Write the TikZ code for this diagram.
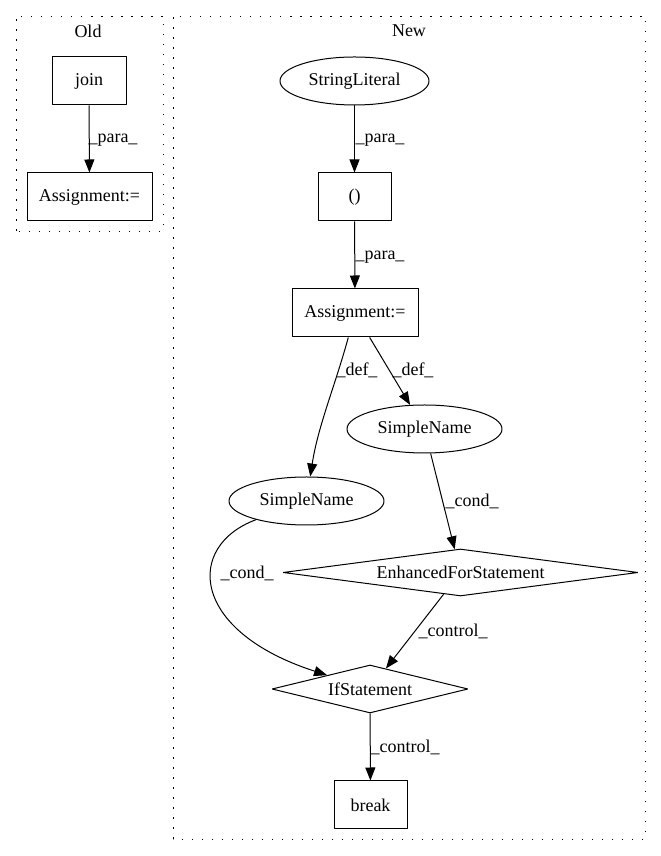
\documentclass[tikz,border=0pt]{standalone}
\usepackage{fontspec}
\setmainfont{Liberation Serif}
\usetikzlibrary{shapes.geometric,arrows.meta}
\tikzset{
  every node/.style={font=\fontsize{18bp}{21bp}\selectfont},
  box/.style={draw,rectangle,inner sep=0pt,minimum height=48bp},
  oval/.style={draw,ellipse,inner sep=0pt,minimum height=48bp},
  dia/.style={draw,diamond,inner sep=0pt},
  lbl/.style={inner sep=0pt},
  cluster/.style={draw,line width=0.8bp,dash pattern=on 1.5bp off 8.5bp},
}
\begin{document}
\begin{tikzpicture}[>={Triangle[length=13bp,width=10bp]},line join=bevel,line width=1bp]
\useasboundingbox (0bp,0bp) rectangle (661bp,856bp);
%%
\draw [cluster] (16bp,625bp) rectangle (163bp,840bp);
\node (title_old) at (88bp,825bp) {Old};
\draw [cluster] (173bp,17bp) rectangle (645bp,840bp);
\node (title_new) at (409bp,825bp) {New};
%%
\node (node_0) at (89bp,775bp) [box,minimum width=74bp] {join};
  \node (node_1) at (89.5bp,659bp) [box,minimum width=125bp] {Assignment:=};
  \node (node_2) at (354.5bp,775bp) [oval,minimum width=149bp] {StringLiteral};
  \node (node_3) at (354.5bp,659bp) [box,minimum width=73bp] {()};
  \node (node_4) at (355bp,543bp) [box,minimum width=126bp] {Assignment:=};
  \node (node_5) at (424.5bp,427bp) [oval,minimum width=155bp] {SimpleName};
  \node (node_6) at (306.5bp,355bp) [oval,minimum width=155bp] {SimpleName};
  \node (node_7) at (460.5bp,283.5bp) [dia,aspect=7.5,minimum width=355bp,minimum height=47bp] {EnhancedForStatement};
  \node (node_8) at (370bp,167bp) [dia,aspect=4,minimum width=196bp,minimum height=48bp] {IfStatement};
  \node (node_9) at (370.5bp,51bp) [box,minimum width=73bp] {break};
%
  \draw [black,->] (node_0) -- (node_1) node [lbl] (lbl_0) at (113bp,716bp) {\_para\_};
  \draw [black,->] (node_2) -- (node_3) node [lbl] (lbl_1) at (380bp,716bp) {\_para\_};
  \draw [black,->] (node_3) -- (node_4) node [lbl] (lbl_2) at (380bp,599bp) {\_para\_};
  \draw [black,->] (node_4) ..controls (335bp,470bp) and (318bp,430bp) .. (node_6) node [lbl] (lbl_3) at (357bp,486bp) {\_def\_};
  \draw [black,->] (node_4) -- (node_5) node [lbl] (lbl_4) at (413bp,486bp) {\_def\_};
  \draw [black,->] (node_5) -- (node_7) node [lbl] (lbl_5) at (472bp,355bp) {\_cond\_};
  \draw [black,->] (node_6) ..controls (185bp,310bp) and (190bp,225bp) .. (node_8) node [lbl] (lbl_6) at (247bp,283bp) {\_cond\_};
  \draw [black,->] (node_7) -- (node_8) node [lbl] (lbl_7) at (453bp,225bp) {\_control\_};
  \draw [black,->] (node_8) -- (node_9) node [lbl] (lbl_8) at (405bp,109bp) {\_control\_};
%
\end{tikzpicture}
\end{document}
